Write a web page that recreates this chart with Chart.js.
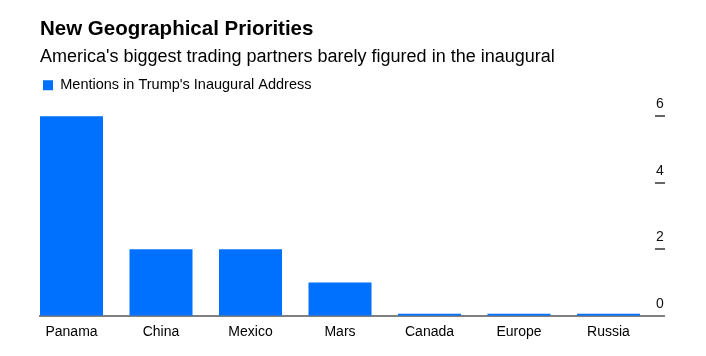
<!DOCTYPE html>
<html>
<head>
<meta charset="utf-8">
<script src="https://cdn.jsdelivr.net/npm/chart.js@4"></script>
<style>
  html, body { margin: 0; padding: 0; background: #fff; }
  #wrap { width: 706px; height: 356px; position: relative; }
</style>
</head>
<body>
<div id="wrap"><canvas id="c"></canvas></div>
<script>
const categories = ["Panama", "China", "Mexico", "Mars", "Canada", "Europe", "Russia"];
const mentions = [6, 2, 2, 1, 0, 0, 0];
const yTicks = [0, 2, 4, 6];
const seriesLabel = "Mentions in Trump's Inaugural Address";
const titleText = "New Geographical Priorities";
const subtitleText = "America's biggest trading partners barely figured in the inaugural";

const FONT = "'Liberation Sans', Arial, Helvetica, sans-serif";
const BLUE = '#0070ff';

const rightAxis = {
  id: 'rightAxis',
  afterDraw(chart) {
    const ctx = chart.ctx;
    const y = chart.scales.y;
    const area = chart.chartArea;
    ctx.save();
    ctx.font = '14px ' + FONT;
    ctx.fillStyle = '#111';
    ctx.textAlign = 'center';
    ctx.textBaseline = 'alphabetic';
    yTicks.forEach(v => {
      const py = Math.round(y.getPixelForValue(v));
      ctx.fillText(String(v), area.right - 4, py - 8);
      if (v !== 0) {
        ctx.strokeStyle = '#333';
        ctx.lineWidth = 1.5;
        ctx.beginPath();
        ctx.moveTo(area.right - 9, py);
        ctx.lineTo(area.right + 1, py);
        ctx.stroke();
      }
    });
    ctx.restore();
  }
};

new Chart(document.getElementById('c'), {
  type: 'bar',
  data: {
    datasets: [{
      label: seriesLabel,
      data: mentions.map((v, i) => ({ x: i, y: v })),
      backgroundColor: BLUE,
      borderWidth: 0,
      minBarLength: 2,
      categoryPercentage: 1,
      barPercentage: 0.704
    }]
  },
  options: {
    responsive: true,
    maintainAspectRatio: false,
    animation: false,
    layout: { padding: { left: 40, right: 42, top: 0, bottom: 7.5 } },
    plugins: {
      title: {
        display: true, text: titleText, align: 'start', color: '#000',
        font: { family: FONT, size: 20.5, weight: 'bold', lineHeight: 1.2 },
        padding: { top: 16.6, bottom: 4.8 }
      },
      subtitle: {
        display: true, text: subtitleText, align: 'start', color: '#000',
        font: { family: FONT, size: 18, lineHeight: 1.2 },
        padding: { top: 0, bottom: 7.4 }
      },
      legend: {
        display: true, align: 'start',
        labels: {
          color: '#000', boxWidth: 10, boxHeight: 10, padding: 3,
          font: { family: FONT, size: 14.5 }
        }
      },
      tooltip: { enabled: false }
    },
    scales: {
      x: {
        type: 'linear',
        offset: false,
        min: -0.352,
        max: 6.62,
        grid: { display: false, drawTicks: false },
        border: { display: true, color: '#808080', width: 2 },
        ticks: {
          stepSize: 1,
          includeBounds: false,
          autoSkip: false,
          maxRotation: 0,
          padding: 8,
          color: '#000',
          font: { family: FONT, size: 14 },
          callback: (v) => categories[v] !== undefined ? categories[v] : ''
        }
      },
      y: {
        display: false,
        min: 0,
        max: 6.41
      }
    }
  },
  plugins: [rightAxis]
});
</script>
</body>
</html>
